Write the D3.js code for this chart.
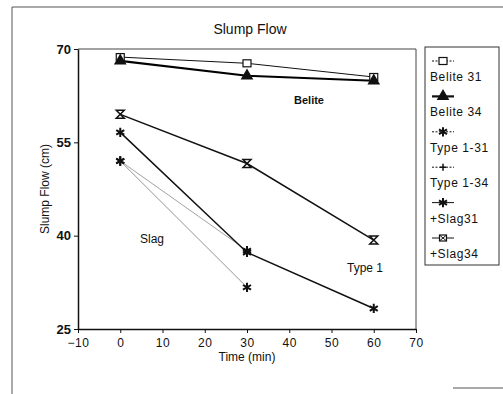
<!DOCTYPE html>
<html>
<head>
<meta charset="utf-8">
<script src="https://cdn.jsdelivr.net/npm/d3@7"></script>
<style>
  body { margin: 0; background: #fff; }
  text { font-family: "Liberation Sans", Arial, sans-serif; fill: #111; }
</style>
</head>
<body>
<script>
// chart data
const times = [0, 30, 60];
const seriesNames = ["Belite 31", "Belite 34", "Type 1-31", "Type 1-34", "+Slag31", "+Slag34"];
const belite31 = [68.7, 67.7, 65.5];
const belite34 = [68.1, 65.7, 64.9];
const type131 = [56.6, 37.3, 28.3];
const type134 = [59.5, 51.6, 39.3];
const slag31 = [52.0, 31.7];
const slag34 = [52.0, 37.6];
const xTicks = [-10, 0, 10, 20, 30, 40, 50, 60, 70];
const yTicks = [25, 40, 55, 70];

const W = 503, H = 394;
const svg = d3.select("body").append("svg")
    .attr("width", W)
    .attr("height", H);

// outer frame of the scanned figure
svg.append("path")
    .attr("d", "M12,394 L12,7 L503,7")
    .attr("fill", "none")
    .attr("stroke", "#555")
    .attr("stroke-width", 1);
svg.append("line")
    .attr("x1", 453).attr("x2", 503)
    .attr("y1", 388).attr("y2", 388)
    .attr("stroke", "#555");

// scales
const x = d3.scaleLinear().domain([-10, 70]).range([78, 416]);
const y = d3.scaleLinear().domain([25, 70]).range([329, 49]);

// plot frame (top and right)
svg.append("path")
    .attr("d", `M${x(-10)},${y(70)} L${x(70)},${y(70)} L${x(70)},${y(25)}`)
    .attr("fill", "none")
    .attr("stroke", "#444")
    .attr("stroke-width", 1);

// x axis
const xAxis = svg.append("g")
    .attr("transform", `translate(0,${y(25)})`)
    .call(d3.axisBottom(x).tickValues(xTicks).tickSize(4).tickSizeOuter(0));
xAxis.select(".domain").attr("stroke", "#111").attr("stroke-width", 1.3);
xAxis.selectAll(".tick line").attr("stroke", "#111");
xAxis.selectAll(".tick text")
    .attr("font-size", 12)
    .attr("font-family", "Liberation Sans, Arial, sans-serif")
    .attr("letter-spacing", 0.5)
    .attr("dy", "0.9em")
    .text(d => d < 0 ? "\u221210" : d);

// y axis
const yAxis = svg.append("g")
    .attr("transform", `translate(${x(-10)},0)`)
    .call(d3.axisLeft(y).tickValues(yTicks).tickSize(4).tickSizeOuter(0));
yAxis.select(".domain").attr("stroke", "#111").attr("stroke-width", 1.5);
yAxis.selectAll(".tick line").attr("stroke", "#111");
yAxis.selectAll(".tick text")
    .attr("font-size", 13)
    .attr("font-weight", "bold")
    .attr("font-family", "Liberation Sans, Arial, sans-serif");

// title and axis labels
svg.append("text")
    .attr("x", 250).attr("y", 34)
    .attr("text-anchor", "middle")
    .attr("font-size", 14)
    .text("Slump Flow");
svg.append("text")
    .attr("x", 247).attr("y", 361)
    .attr("text-anchor", "middle")
    .attr("font-size", 12)
    .text("Time (min)");
svg.append("text")
    .attr("transform", `translate(49,${y(47.5)}) rotate(-90)`)
    .attr("text-anchor", "middle")
    .attr("font-size", 12)
    .text("Slump Flow (cm)");

// marker shapes
const hourglass = (s) => `M${-s},${-s}L${s},${-s}L${-s},${s}L${s},${s}Z`;
function drawMarker(g, kind, cx, cy) {
    if (kind === "square") {
        g.append("rect").attr("x", cx - 4).attr("y", cy - 3.5).attr("width", 8).attr("height", 7)
            .attr("fill", "#fff").attr("stroke", "#111").attr("stroke-width", 1.2);
    } else if (kind === "triangle") {
        g.append("path").attr("transform", `translate(${cx},${cy})`)
            .attr("d", d3.symbol(d3.symbolTriangle, 70)()).attr("fill", "#111");
    } else if (kind === "asterisk") {
        g.append("path").attr("transform", `translate(${cx},${cy})`)
            .attr("d", d3.symbol(d3.symbolAsterisk, 60)())
            .attr("fill", "none").attr("stroke", "#111").attr("stroke-width", 2);
    } else if (kind === "hourglass") {
        g.append("path").attr("transform", `translate(${cx},${cy})`)
            .attr("d", hourglass(4))
            .attr("fill", "none").attr("stroke", "#111").attr("stroke-width", 1.5);
    } else if (kind === "plus") {
        g.append("path").attr("transform", `translate(${cx},${cy})`)
            .attr("d", "M-3,0L3,0M0,-3.5L0,3.5")
            .attr("fill", "none").attr("stroke", "#111").attr("stroke-width", 1.5);
    } else if (kind === "boxx") {
        g.append("rect").attr("x", cx - 3.5).attr("y", cy - 3).attr("width", 7).attr("height", 6)
            .attr("fill", "#fff").attr("stroke", "#111").attr("stroke-width", 1.2);
        g.append("path").attr("transform", `translate(${cx},${cy})`)
            .attr("d", "M-3,-2.5L3,2.5M3,-2.5L-3,2.5").attr("stroke", "#111");
    }
}

// series styling
const seriesData = [belite31, belite34, type131, type134, slag31, slag34];
const strokes = ["#111", "#000", "#111", "#111", "#888", "#999"];
const widths = [1, 2.2, 1.5, 1.5, 0.9, 0.9];
const plotMarkers = ["square", "triangle", "asterisk", "hourglass", "asterisk", "asterisk"];
const legendMarkers = ["square", "triangle", "asterisk", "plus", "asterisk", "boxx"];

const line = d3.line().x(d => x(d.t)).y(d => y(d.v));
const plot = svg.append("g");

// draw thin series first so thick ones sit on top
[5, 4, 0, 1, 3, 2].forEach(i => {
    const pts = seriesData[i].map((v, j) => ({t: times[j], v: v}));
    plot.append("path")
        .datum(pts)
        .attr("d", line)
        .attr("fill", "none")
        .attr("stroke", strokes[i])
        .attr("stroke-width", widths[i]);
});
[5, 4, 0, 1, 3, 2].forEach(i => {
    seriesData[i].forEach((v, j) => drawMarker(plot, plotMarkers[i], x(times[j]), y(v)));
});

// annotations
svg.append("text").attr("x", 309).attr("y", 104)
    .attr("text-anchor", "middle").attr("font-size", 11).attr("font-weight", "bold").text("Belite");
svg.append("text").attr("x", 152).attr("y", 243)
    .attr("text-anchor", "middle").attr("font-size", 12).text("Slag");
svg.append("text").attr("x", 365).attr("y", 272)
    .attr("text-anchor", "middle").attr("font-size", 12).text("Type 1");

// legend
const legend = svg.append("g");
legend.append("rect")
    .attr("x", 425).attr("y", 47)
    .attr("width", 74).attr("height", 218)
    .attr("fill", "#fff")
    .attr("stroke", "#333")
    .attr("stroke-width", 1);
seriesNames.forEach((name, i) => {
    const my = 61 + i * 35.4;
    legend.append("line")
        .attr("x1", 432).attr("x2", 454)
        .attr("y1", my).attr("y2", my)
        .attr("stroke", "#111")
        .attr("stroke-width", i === 1 ? 2.2 : 1)
        .attr("stroke-dasharray", i === 0 || i === 2 || i === 3 ? "2,1.5" : null);
    drawMarker(legend, legendMarkers[i], 443, my);
    legend.append("text")
        .attr("x", 430).attr("y", my + 20)
        .attr("font-size", 12)
        .attr("letter-spacing", 0.6)
        .text(name);
});
</script>
</body>
</html>
